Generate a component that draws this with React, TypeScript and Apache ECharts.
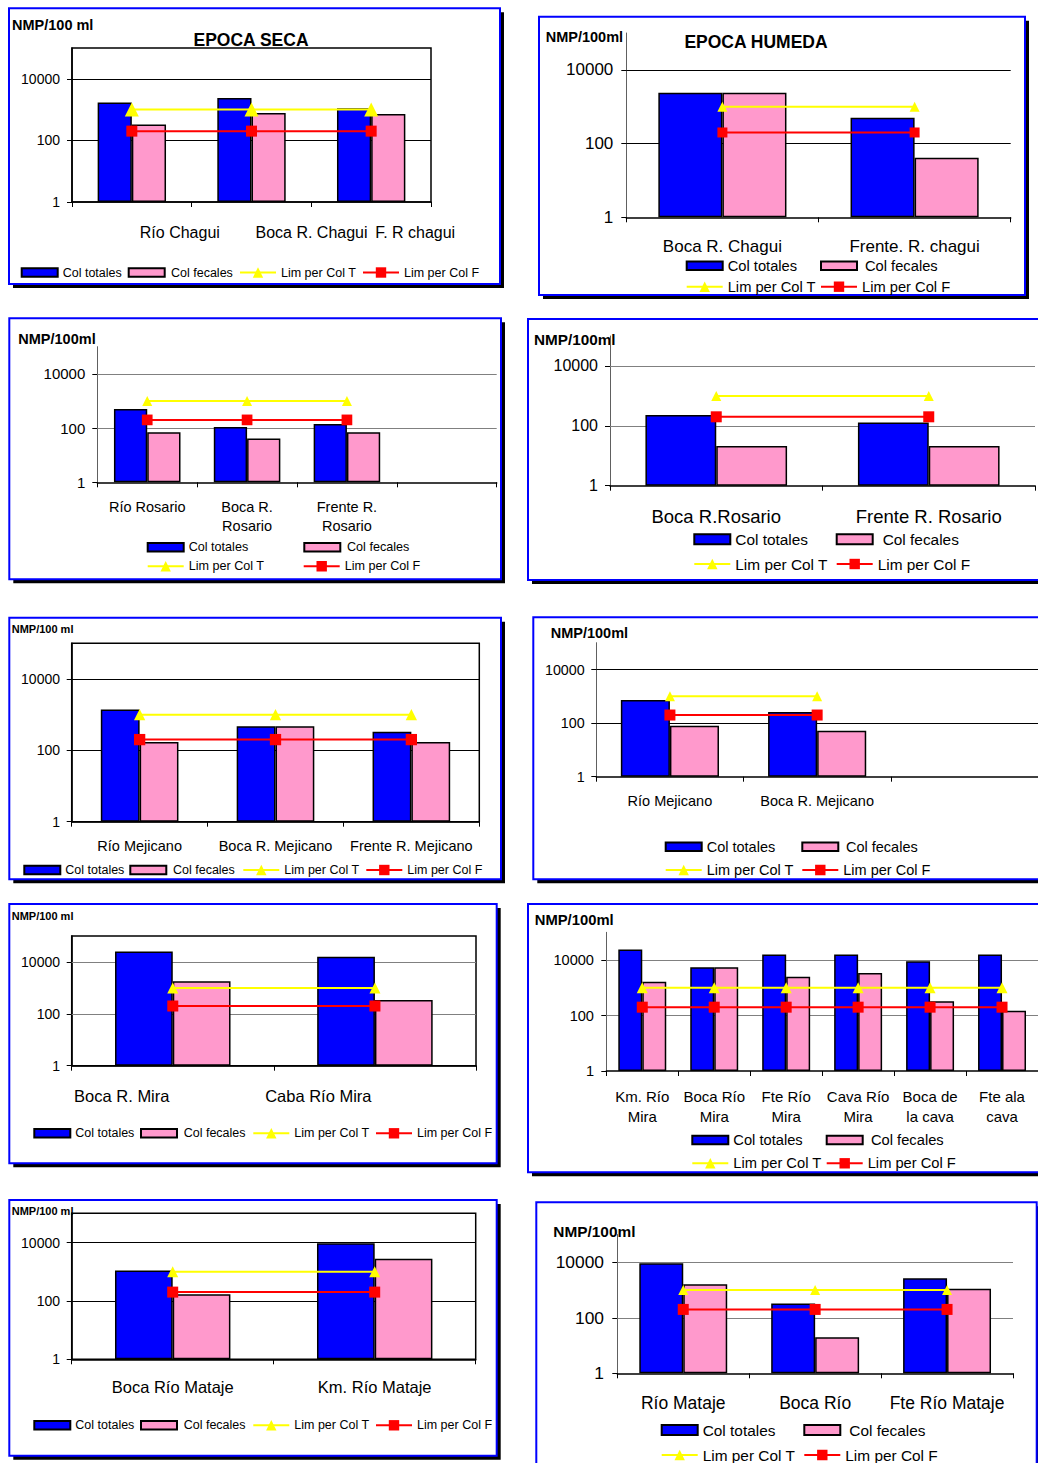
import React, { useEffect, useRef } from "react";
import * as echarts from "echarts";

const FONT = '"Liberation Sans", Arial, Helvetica, sans-serif';

// ---------- DATA ----------
const yTickValues = [1, 100, 10000];
const seriesNames = ["Col totales", "Col fecales", "Lim per Col T", "Lim per Col F"];

// Panel 1: Chagui, época seca
const chaguiSecaSites = ["Río Chagui", "Boca R. Chagui", "F. R chagui"];
const chaguiSecaTotales = [1700, 2400, 1100];
const chaguiSecaFecales = [330, 780, 720];
const chaguiSecaLimT = [1000, 1000, 1000];
const chaguiSecaLimF = [200, 200, 200];

// Panel 2: Chagui, época húmeda
const chaguiHumSites = ["Boca R. Chagui", "Frente. R. chagui"];
const chaguiHumTotales = [2400, 500];
const chaguiHumFecales = [2400, 41];
const chaguiHumLimT = [1000, 1000];
const chaguiHumLimF = [200, 200];

// Panel 3: Rosario (seca)
const rosarioSecaSites = ["Río Rosario", "Boca R.\nRosario", "Frente R.\nRosario", ""];
const rosarioSecaTotales = [500, 110, 140, null];
const rosarioSecaFecales = [70, 41, 70, null];
const rosarioSecaLimT = [1000, 1000, 1000, null];
const rosarioSecaLimF = [200, 200, 200, null];

// Panel 4: Rosario (húmeda)
const rosarioHumSites = ["Boca R.Rosario", "Frente R. Rosario"];
const rosarioHumTotales = [230, 130];
const rosarioHumFecales = [21, 21];
const rosarioHumLimT = [1000, 1000];
const rosarioHumLimF = [200, 200];

// Panel 5: Mejicano (seca)
const mejicanoSecaSites = ["Río Mejicano", "Boca R. Mejicano", "Frente R. Mejicano"];
const mejicanoSecaTotales = [1400, 470, 330];
const mejicanoSecaFecales = [170, 470, 170];
const mejicanoSecaLimT = [1000, 1000, 1000];
const mejicanoSecaLimF = [200, 200, 200];

// Panel 6: Mejicano (húmeda)
const mejicanoHumSites = ["Río Mejicano", "Boca R. Mejicano", ""];
const mejicanoHumTotales = [720, 260, null];
const mejicanoHumFecales = [80, 52, null];
const mejicanoHumLimT = [1000, 1000, null];
const mejicanoHumLimF = [200, 200, null];

// Panel 7: Mira (seca)
const miraSecaSites = ["Boca R. Mira", "Caba Río Mira"];
const miraSecaTotales = [25000, 16000];
const miraSecaFecales = [1800, 340];
const miraSecaLimT = [1000, 1000];
const miraSecaLimF = [200, 200];

// Panel 8: Mira (húmeda)
const miraHumSites = ["Km. Río\nMira", "Boca Río\nMira", "Fte Río\nMira", "Cava Río\nMira", "Boca de\nla cava", "Fte ala\ncava"];
const miraHumTotales = [24000, 5500, 16000, 16000, 9000, 16000];
const miraHumFecales = [1650, 5500, 2500, 3400, 330, 150];
const miraHumLimT = [1000, 1000, 1000, 1000, 1000, 1000];
const miraHumLimF = [200, 200, 200, 200, 200, 200];

// Panel 9: Mataje (seca)
const matajeSecaSites = ["Boca Río Mataje", "Km. Río Mataje"];
const matajeSecaTotales = [1100, 9500];
const matajeSecaFecales = [170, 2800];
const matajeSecaLimT = [1000, 1000];
const matajeSecaLimF = [200, 200];

// Panel 10: Mataje (húmeda)
const matajeHumSites = ["Río Mataje", "Boca Río", "Fte Río Mataje"];
const matajeHumTotales = [9200, 330, 2650];
const matajeHumFecales = [1600, 20, 1100];
const matajeHumLimT = [1000, 1000, 1000];
const matajeHumLimF = [200, 200, 200];

// ---------- LAYOUT / STYLE ----------
type LegendItem = [string, number, number, number];
type Panel = {
  box: [number, number, number, number];
  unit: { text: string; x: number; y: number; size: number };
  title?: { text: string; x: number; y: number; size: number };
  plot: [number, number, number, number];
  frame: boolean;
  gridColor: string;
  cats: string[];
  tot: (number | null)[];
  fec: (number | null)[];
  limT: (number | null)[];
  limF: (number | null)[];
  barWidth: string;
  yFont: number;
  yMargin: number;
  xFont: number;
  xLH: number;
  xMargin: number;
  xOffsets?: number[];
  tri: number;
  sq: number;
  legFont: number;
  barIconH: number;
  legend: LegendItem[];
};

const panels: Panel[] = [
  {
    box: [9, 8.3, 491, 275.7],
    unit: { text: "NMP/100 ml", x: 12, y: 25, size: 14.5 },
    title: { text: "EPOCA SECA", x: 251, y: 40, size: 17.5 },
    plot: [72, 48, 431, 202], frame: true, gridColor: "#000",
    cats: chaguiSecaSites, tot: chaguiSecaTotales, fec: chaguiSecaFecales, limT: chaguiSecaLimT, limF: chaguiSecaLimF,
    barWidth: "28.57%", yFont: 14, yMargin: 12, xFont: 16, xLH: 19, xMargin: 20.5, xOffsets: [48, 60, 44],
    tri: 14, sq: 11, legFont: 12.5, barIconH: 8.5,
    legend: [["Col totales", 20.7, 272.5, 0], ["Col fecales", 127.7, 272.5, 1.3], ["Lim per Col T", 239, 272.5, 0], ["Lim per Col F", 362, 272.5, 0]],
  },
  {
    box: [539, 16.7, 486, 278.3],
    unit: { text: "NMP/100ml", x: 545.7, y: 37, size: 14.5 },
    title: { text: "EPOCA HUMEDA", x: 756, y: 42, size: 17.5 },
    plot: [626.3, 33, 1010.7, 217.3], frame: false, gridColor: "#000",
    cats: chaguiHumSites, tot: chaguiHumTotales, fec: chaguiHumFecales, limT: chaguiHumLimT, limF: chaguiHumLimF,
    barWidth: "33.33%", yFont: 17, yMargin: 13, xFont: 17, xLH: 20, xMargin: 18.7,
    tri: 10, sq: 10, legFont: 14.7, barIconH: 8.5,
    legend: [["Col totales", 685.7, 265.7, 0], ["Col fecales", 820, 265.7, 3], ["Lim per Col T", 685.7, 286.7, 0], ["Lim per Col F", 820, 286.7, 0]],
  },
  {
    box: [9.3, 318.3, 491.7, 261],
    unit: { text: "NMP/100ml", x: 18.3, y: 339.3, size: 14.5 },
    plot: [97.3, 346.7, 496.7, 482.3], frame: false, gridColor: "#808080",
    cats: rosarioSecaSites, tot: rosarioSecaTotales, fec: rosarioSecaFecales, limT: rosarioSecaLimT, limF: rosarioSecaLimF,
    barWidth: "33.33%", yFont: 15, yMargin: 12, xFont: 14.5, xLH: 18.7, xMargin: 15.7,
    tri: 10, sq: 10.7, legFont: 12.6, barIconH: 8.5,
    legend: [["Col totales", 146.7, 547.3, 0], ["Col fecales", 303.3, 547.3, 1.7], ["Lim per Col T", 146.7, 566.3, 0], ["Lim per Col F", 302.7, 566.3, 0]],
  },
  {
    box: [528, 319, 520, 261],
    unit: { text: "NMP/100ml", x: 534, y: 339.3, size: 15.3 },
    plot: [610, 336, 1035, 485.7], frame: false, gridColor: "#808080",
    cats: rosarioHumSites, tot: rosarioHumTotales, fec: rosarioHumFecales, limT: rosarioHumLimT, limF: rosarioHumLimF,
    barWidth: "33.33%", yFont: 16, yMargin: 12, xFont: 18.5, xLH: 22, xMargin: 20,
    tri: 10, sq: 11, legFont: 15.4, barIconH: 10,
    legend: [["Col totales", 693.3, 539.3, 0], ["Col fecales", 835.7, 539.3, 5], ["Lim per Col T", 693.3, 564, 0], ["Lim per Col F", 835.7, 564, 0]],
  },
  {
    box: [9.3, 617.7, 491.7, 261.6],
    unit: { text: "NMP/100 ml", x: 11.7, y: 629.3, size: 11 },
    plot: [71.7, 643.3, 479.3, 821.7], frame: true, gridColor: "#000",
    cats: mejicanoSecaSites, tot: mejicanoSecaTotales, fec: mejicanoSecaFecales, limT: mejicanoSecaLimT, limF: mejicanoSecaLimF,
    barWidth: "28.57%", yFont: 14, yMargin: 11.7, xFont: 14.5, xLH: 17, xMargin: 15.8,
    tri: 11.3, sq: 11.3, legFont: 12.5, barIconH: 8.5,
    legend: [["Col totales", 23.3, 870, 0], ["Col fecales", 129.3, 870, 1.7], ["Lim per Col T", 242.3, 870, 0], ["Lim per Col F", 365.3, 870, 0]],
  },
  {
    box: [533.3, 617.3, 515, 262],
    unit: { text: "NMP/100ml", x: 550.7, y: 633.3, size: 14.5 },
    plot: [596.3, 642.7, 1047.5, 776.7], frame: false, gridColor: "#000",
    cats: mejicanoHumSites, tot: mejicanoHumTotales, fec: mejicanoHumFecales, limT: mejicanoHumLimT, limF: mejicanoHumLimF,
    barWidth: "33.33%", yFont: 14.3, yMargin: 11.6, xFont: 14.5, xLH: 17, xMargin: 15.8,
    tri: 10, sq: 11, legFont: 14.5, barIconH: 8.5,
    legend: [["Col totales", 664.7, 846.7, 0], ["Col fecales", 801.3, 846.7, 2.7], ["Lim per Col T", 664.7, 870, 0], ["Lim per Col F", 801.3, 870, 0]],
  },
  {
    box: [9.3, 904, 487.4, 259.3],
    unit: { text: "NMP/100 ml", x: 11.7, y: 916, size: 11 },
    plot: [71.7, 936, 476, 1065.7], frame: true, gridColor: "#808080",
    cats: miraSecaSites, tot: miraSecaTotales, fec: miraSecaFecales, limT: miraSecaLimT, limF: miraSecaLimF,
    barWidth: "28.57%", yFont: 14, yMargin: 11.7, xFont: 16.5, xLH: 20, xMargin: 20.3, xOffsets: [-51, -56.6],
    tri: 11, sq: 11, legFont: 12.5, barIconH: 8.5,
    legend: [["Col totales", 33.3, 1133.3, 0], ["Col fecales", 140, 1133.3, 1.7], ["Lim per Col T", 252.3, 1133.3, 0], ["Lim per Col F", 375, 1133.3, 0]],
  },
  {
    box: [528, 904, 520, 268.3],
    unit: { text: "NMP/100ml", x: 534.7, y: 920, size: 14.8 },
    plot: [606.3, 932.3, 1038.3, 1071], frame: false, gridColor: "#808080",
    cats: miraHumSites, tot: miraHumTotales, fec: miraHumFecales, limT: miraHumLimT, limF: miraHumLimF,
    barWidth: "33.33%", yFont: 14.6, yMargin: 12.3, xFont: 15, xLH: 20, xMargin: 15.7,
    tri: 11, sq: 11, legFont: 14.7, barIconH: 8.5,
    legend: [["Col totales", 691.3, 1140, 0], ["Col fecales", 825.7, 1140, 3.3], ["Lim per Col T", 691.3, 1163.3, 0], ["Lim per Col F", 825.7, 1163.3, 0]],
  },
  {
    box: [9.3, 1200, 487.4, 255.7],
    unit: { text: "NMP/100 ml", x: 11.7, y: 1211, size: 11 },
    plot: [71.7, 1213.3, 475.7, 1359.3], frame: true, gridColor: "#000",
    cats: matajeSecaSites, tot: matajeSecaTotales, fec: matajeSecaFecales, limT: matajeSecaLimT, limF: matajeSecaLimF,
    barWidth: "28.57%", yFont: 14, yMargin: 11.7, xFont: 16.5, xLH: 20, xMargin: 18,
    tri: 11, sq: 11, legFont: 12.5, barIconH: 8.5,
    legend: [["Col totales", 33.3, 1425.3, 0], ["Col fecales", 140, 1425.3, 1.7], ["Lim per Col T", 252.3, 1425.3, 0], ["Lim per Col F", 375, 1425.3, 0]],
  },
  {
    box: [536.3, 1202.3, 500.4, 270],
    unit: { text: "NMP/100ml", x: 553.3, y: 1231.7, size: 15.4 },
    plot: [617.3, 1234.5, 1013, 1373.3], frame: false, gridColor: "#808080",
    cats: matajeHumSites, tot: matajeHumTotales, fec: matajeHumFecales, limT: matajeHumLimT, limF: matajeHumLimF,
    barWidth: "33.33%", yFont: 17.4, yMargin: 13.3, xFont: 17.5, xLH: 21, xMargin: 18.9,
    tri: 10, sq: 11, legFont: 15.4, barIconH: 10,
    legend: [["Col totales", 660.7, 1430, 0], ["Col fecales", 803.3, 1430, 4], ["Lim per Col T", 660.7, 1455, 0], ["Lim per Col F", 803.3, 1455, 0]],
  },
];

const BLUE = "#0000ff";
const PINK = "#ff99cc";
const YELLOW = "#ffff00";
const RED = "#ff0000";

function buildOption() {
  const grid: any[] = [];
  const xAxis: any[] = [];
  const yAxis: any[] = [];
  const series: any[] = [];
  const legend: any[] = [];
  const elements: any[] = [];

  panels.forEach((p, i) => {
    const [x0, y0, x1, y1] = p.plot;
    grid.push({
      left: x0, top: y0, width: x1 - x0, height: y1 - y0,
      show: p.frame, borderColor: "#000", borderWidth: 1.5, backgroundColor: "transparent",
      containLabel: false,
    });
    xAxis.push({
      type: "category", gridIndex: i, boundaryGap: true,
      data: p.cats.map((c, k) => {
        const off = p.xOffsets ? p.xOffsets[k] : 0;
        if (!off) return { value: c };
        return { value: c, textStyle: { padding: off > 0 ? [0, 0, 0, 2 * off] : [0, -2 * off, 0, 0] } };
      }),
      axisLine: { show: true, lineStyle: { color: "#000", width: 1.5 } },
      axisTick: { show: true, length: 5, lineStyle: { color: "#000", width: 1 } },
      axisLabel: {
        interval: 0, fontSize: p.xFont, lineHeight: p.xLH, margin: p.xMargin,
        color: "#000", fontFamily: FONT, align: "center",
      },
      splitLine: { show: false },
    });
    yAxis.push({
      type: "log", logBase: 100, min: 1, max: 100000, gridIndex: i,
      axisLine: { show: true, lineStyle: { color: p.frame ? "#000" : "#606060", width: p.frame ? 1.5 : 1 } },
      axisTick: { show: true, length: 5, lineStyle: { color: "#000", width: 1 } },
      axisLabel: {
        fontSize: p.yFont, margin: p.yMargin, color: "#000", fontFamily: FONT,
        showMaxLabel: false,
        formatter: (v: number) => {
          const r = Math.round(v);
          return yTickValues.indexOf(r) >= 0 ? String(r) : "";
        },
      },
      splitLine: { show: false },
    });

    series.push({
      type: "bar", name: seriesNames[0], xAxisIndex: i, yAxisIndex: i, data: p.tot,
      barWidth: p.barWidth, barGap: "0%",
      itemStyle: { color: BLUE, borderColor: "#000", borderWidth: 1.5 },
      markLine: {
        silent: true, symbol: ["none", "none"], z: 1, animation: false,
        label: { show: false },
        lineStyle: { color: p.gridColor, width: 1, type: "solid" },
        data: yTickValues.slice(1).map((v) => ({ yAxis: v })),
      },
    });
    series.push({
      type: "bar", name: seriesNames[1], xAxisIndex: i, yAxisIndex: i, data: p.fec,
      barWidth: p.barWidth, barGap: "0%",
      itemStyle: { color: PINK, borderColor: "#000", borderWidth: 1.5 },
    });
    series.push({
      type: "line", name: seriesNames[2], xAxisIndex: i, yAxisIndex: i, data: p.limT,
      symbol: "triangle", symbolSize: p.tri, z: 4,
      lineStyle: { color: YELLOW, width: 2 }, itemStyle: { color: YELLOW },
    });
    series.push({
      type: "line", name: seriesNames[3], xAxisIndex: i, yAxisIndex: i, data: p.limF,
      symbol: "rect", symbolSize: p.sq, z: 4,
      lineStyle: { color: RED, width: 2 }, itemStyle: { color: RED },
    });

    p.legend.forEach(([name, left, cy, pad]) => {
      const isBar = name.indexOf("Col ") === 0;
      const ih = isBar ? p.barIconH : 13;
      const lh = Math.round(p.legFont * 1.15);
      const H = Math.max(ih, lh);
      legend.push({
        data: [name], left, top: cy - H / 2, padding: 0, itemGap: 0,
        itemWidth: 36, itemHeight: ih, selectedMode: false,
        ...(isBar ? { icon: "rect" } : {}),
        textStyle: {
          fontSize: p.legFont, fontFamily: FONT, color: "#000", lineHeight: lh,
          padding: pad ? [0, 0, 0, pad] : 0,
        },
      });
    });

    const [bx, by, bw, bh] = p.box;
    elements.push({
      type: "rect", z: -20, silent: true,
      shape: { x: bx + 4, y: by + 4, width: bw, height: bh },
      style: { fill: "#000" },
    });
    elements.push({
      type: "rect", z: -19, silent: true,
      shape: { x: bx, y: by, width: bw, height: bh },
      style: { fill: "#fff", stroke: BLUE, lineWidth: 2 },
    });
    elements.push({
      type: "text", z: -1, silent: true, x: p.unit.x, y: p.unit.y,
      style: {
        text: p.unit.text, fontSize: p.unit.size, fontWeight: "bold", fontFamily: FONT,
        fill: "#000", align: "left", verticalAlign: "middle",
      },
    });
    if (p.title) {
      elements.push({
        type: "text", z: 5, silent: true, x: p.title.x, y: p.title.y,
        style: {
          text: p.title.text, fontSize: p.title.size, fontWeight: "bold", fontFamily: FONT,
          fill: "#000", align: "center", verticalAlign: "middle",
        },
      });
    }
  });

  return {
    animation: false,
    backgroundColor: "#fff",
    textStyle: { fontFamily: FONT },
    grid, xAxis, yAxis, series, legend,
    graphic: { elements },
  };
}

export default function App() {
  const ref = useRef<HTMLDivElement>(null);
  useEffect(() => {
    if (!ref.current) return;
    const chart = echarts.init(ref.current, null, { renderer: "svg" });
    chart.setOption(buildOption() as any);
    return () => chart.dispose();
  }, []);
  return (
    <div
      ref={ref}
      style={{ position: "absolute", left: 0, top: 0, width: 1038, height: 1463, background: "#fff" }}
    />
  );
}
